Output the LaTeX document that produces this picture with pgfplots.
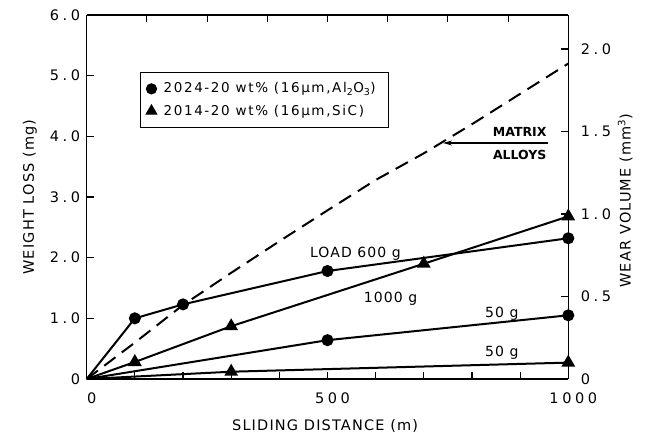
\documentclass[border=0pt]{standalone}
\usepackage{pgfplots}
\pgfplotsset{compat=1.18}
\usetikzlibrary{arrows.meta}
\usepackage{fontspec}
\setmainfont{DejaVu Sans}
\newfontfamily\tickfont[LetterSpace=25]{DejaVu Sans}
\newfontfamily\labfont[LetterSpace=8]{DejaVu Sans}
\newfontfamily\legfont[LetterSpace=12]{DejaVu Sans}

\begin{document}
\begin{tikzpicture}[font=\fontsize{13}{15}\selectfont]
\useasboundingbox (-86.7pt,-64pt) rectangle (562.3pt,379pt);
\pgfplotsset{
  base/.style={
    width=481.6pt, height=364pt, scale only axis,
    xmin=0, xmax=1000,
    tick align=inside, major tick length=7pt,
    axis line style={line width=1.4pt},
    every tick/.style={black, line width=1.1pt},
    /pgf/number format/assume math mode=true,
    tick label style={font=\tickfont\fontsize{14.5}{16}\selectfont},
    label style={font=\labfont\fontsize{14.5}{17}\selectfont},
    clip=false,
  },
}
\begin{axis}[base,
  ymin=0, ymax=6,
  axis x line*=bottom, axis y line*=left,
  xtick={0,100,200,300,400,500,600,700,800,900,1000},
  xticklabels={0,,,,,500,,,,,1000},
  ytick={0,1,2,3,4,5,6},
  yticklabels={0,1.0,2.0,3.0,4.0,5.0,6.0},
  xticklabel style={yshift=-10pt, xshift=5pt},
  yticklabel style={xshift=-3pt},
  xlabel={SLIDING DISTANCE (m)},
  ylabel={WEIGHT LOSS (mg)},
  xlabel style={at={(axis description cs:0.495,-0.128)}, anchor=center},
  ylabel style={at={(axis description cs:-0.118,0.5)}, anchor=center},
  legend style={at={(axis description cs:0.11,0.843)}, anchor=north west,
    draw=black, line width=1.2pt, inner xsep=6pt, inner ysep=8pt, row sep=6pt,
    font=\legfont\fontsize{13.5}{16}\selectfont,
    nodes={inner xsep=7pt, inner ysep=2pt, text depth=2pt}},
  legend image post style={xshift=-3pt},
  legend cell align=left,
]
\addlegendimage{only marks, mark=*, mark size=5pt, black}
\addlegendentry{2024-20 wt\% (16μm,Al\textsubscript{2}O\textsubscript{3})}
\addlegendimage{only marks, mark=triangle*, mark size=6pt, black}
\addlegendentry{2014-20 wt\% (16μm,SiC)}

% matrix alloys
\addplot[black, line width=2pt, dash pattern=on 14pt off 8pt, forget plot] coordinates {
  (0,0) (100,0.6) (200,1.22) (300,1.75) (400,2.27) (500,2.78)
  (600,3.28) (700,3.72) (800,4.2) (900,4.7) (1000,5.2)
};
% 2024 Al2O3, 600 g
\addplot[black, line width=2pt, mark=*, mark size=5pt, mark indices={2,3,4,5}, forget plot] coordinates {
  (0,0) (100,1.0) (200,1.23) (500,1.78) (1000,2.32)
};
% 2014 SiC, 1000 g
\addplot[black, line width=2pt, mark=triangle*, mark size=6pt, mark indices={2,3,4,5}, forget plot] coordinates {
  (0,0) (100,0.28) (300,0.87) (700,1.9) (1000,2.68)
};
% 2024 Al2O3, 50 g
\addplot[black, line width=2pt, mark=*, mark size=5pt, mark indices={2,3}, forget plot] coordinates {
  (0,0) (500,0.64) (1000,1.05)
};
% 2014 SiC, 50 g
\addplot[black, line width=2pt, mark=triangle*, mark size=6pt, mark indices={2,3}, forget plot] coordinates {
  (0,0) (300,0.12) (1000,0.27)
};

\node[font=\labfont\fontsize{14}{16}\selectfont] at (axis cs:558,2.07) {LOAD 600 g};
\node[font=\labfont\fontsize{14}{16}\selectfont] at (axis cs:631,1.33) {1000 g};
\node[font=\labfont\fontsize{14}{16}\selectfont] at (axis cs:862,1.08) {50 g};
\node[font=\labfont\fontsize{14}{16}\selectfont] at (axis cs:862,0.43) {50 g};
\draw[-{Stealth[length=9pt,width=5pt]}, line width=1.1pt] (axis cs:958,3.89) -- (axis cs:740,3.89);
\node[anchor=east, font=\fontsize{12.5}{15}\selectfont\bfseries] at (axis cs:962,4.07) {MATRIX};
\node[anchor=east, font=\fontsize{12.5}{15}\selectfont\bfseries] at (axis cs:962,3.70) {ALLOYS};
\end{axis}

\begin{axis}[base,
  ymin=0, ymax=2.206,
  axis x line*=top, axis y line*=right,
  xtick={125,250,375,500,625,750,875},
  xticklabels={},
  ytick={0,0.5,1,1.5,2},
  yticklabels={0,0.5,1.0,1.5,2.0},
  yticklabel style={xshift=9pt},
  ylabel={WEAR VOLUME (mm\textsuperscript{3})},
  ylabel style={at={(axis description cs:1.118,0.49)}, anchor=center},
]
\end{axis}
\end{tikzpicture}
\end{document}
